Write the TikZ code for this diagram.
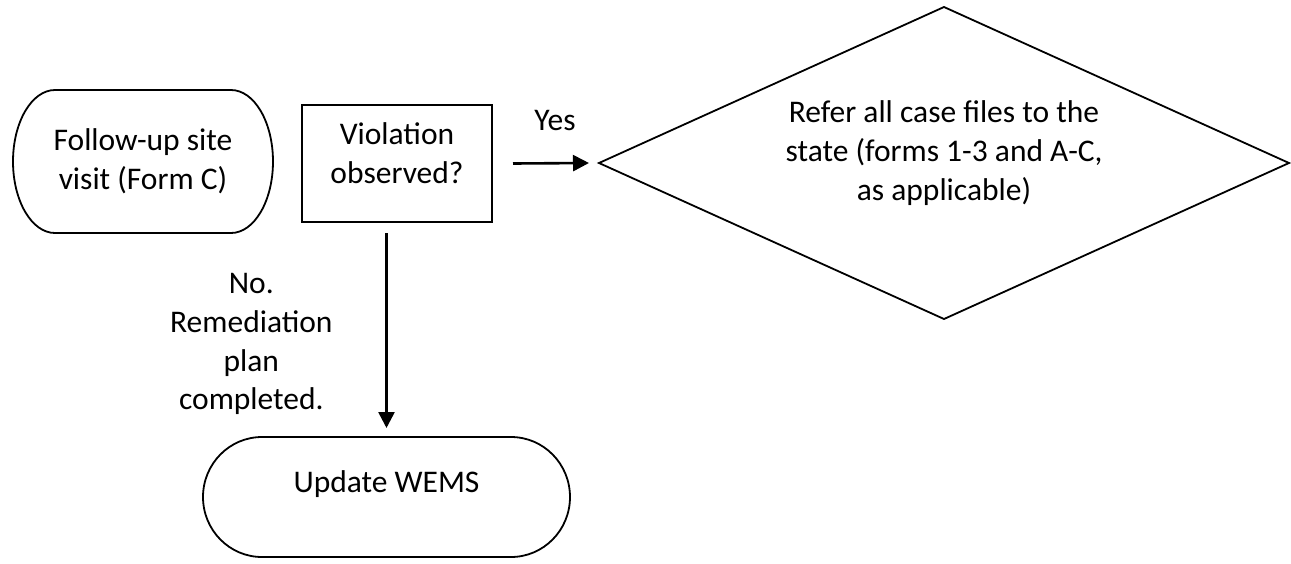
\documentclass[tikz,border=0pt]{standalone}
\usepackage{fontspec}
\setmainfont{Carlito}
\usetikzlibrary{shapes.geometric, arrows.meta}

\begin{document}
\begin{tikzpicture}[x=1pt, y=-1pt]

\tikzset{every node/.style = {font=\fontsize{31.5}{38.8}\selectfont, inner sep=0pt, outer sep=0pt, align=center}}
\tikzset{box/.style = {shape=rectangle, draw, line width=1.8pt, minimum width=190pt, minimum height=117pt}}
\tikzset{decision/.style = {shape=diamond, draw, line width=1.8pt, minimum width=690pt, minimum height=312pt}}
\tikzset{terminal/.style = {shape=rectangle}}
\tikzset{outline/.style = {line width=1.8pt}}
\tikzset{flow/.style = {-{Triangle[length=16pt, width=16pt]}, line width=2.6pt}}

\useasboundingbox (0,0) rectangle (1291,563);

%shapes
\node[terminal, minimum width=260pt, minimum height=143pt] (visit) at (143,161.5) {Follow-up site\\visit (Form C)};
\node[box, label={[yshift=10pt]center:Violation\\observed?}] (check) at (397,163.5) {};
\node[decision, label={[yshift=10pt]center:Refer all case files to the\\state (forms 1-3 and A-C,\\as applicable)}] (refer) at (944,163) {};
\node[terminal, minimum width=367pt, minimum height=120pt, label={[yshift=12.5pt]center:Update WEMS}] (update) at (386.5,497) {};

%terminal outlines
\draw[outline] ([xshift=42pt]visit.north west) -- ([xshift=-42pt]visit.north east)
  arc[start angle=90, end angle=-90, x radius=42pt, y radius=71.5pt]
  -- ([xshift=42pt]visit.south west)
  arc[start angle=270, end angle=90, x radius=42pt, y radius=71.5pt] -- cycle;
\draw[outline] ([xshift=59pt]update.north west) -- ([xshift=-59pt]update.north east)
  arc[start angle=90, end angle=-90, x radius=59pt, y radius=60pt]
  -- ([xshift=59pt]update.south west)
  arc[start angle=270, end angle=90, x radius=59pt, y radius=60pt] -- cycle;

%arrows
\coordinate (down) at (update.north |- check.south);
\draw[flow] ([xshift=21pt]check.east) -- node[above=33pt, xshift=4pt] {Yes} ([xshift=-10pt]refer.west);
\draw[flow] ([yshift=-11pt]down) -- node[pos=0.57, left=54pt] {No.\\Remediation\\plan\\completed.} ([yshift=9pt]update.north);

\end{tikzpicture}
\end{document}
